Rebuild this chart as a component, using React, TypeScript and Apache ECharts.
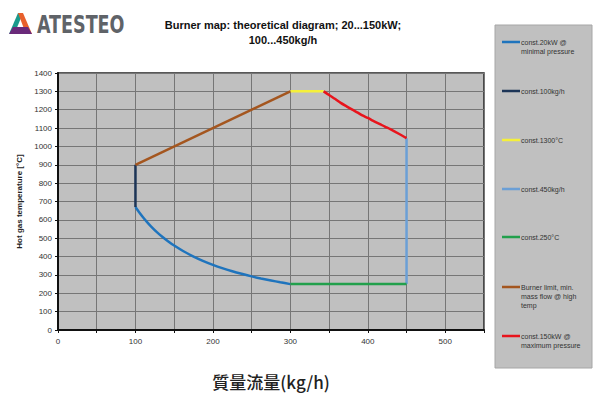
import React, { useEffect, useRef } from "react";
import * as echarts from "echarts";

const titleText = "Burner map: theoretical diagram; 20...150kW;\n100...450kg/h";
const xAxisName = "質量流量(kg/h)";
const yAxisName = "Hot gas temperature [°C]";

const seriesNames = [
  "const.20kW @\nminimal pressure",
  "const.100kg/h",
  "const.1300°C",
  "const.450kg/h",
  "const.250°C",
  "Burner limit, min.\nmass flow @ high\ntemp",
  "const.150kW @\nmaximum pressure",
];
const seriesColors = ["#1f74bd", "#1d3557", "#f5f03a", "#6b9fd6", "#22a04c", "#a4561f", "#e8141c"];

const const20kW = [
  [100, 670], [105, 640], [110, 613], [115, 588], [120, 565], [128, 532], [135, 507],
  [142, 484], [150, 460], [162, 429], [175, 400], [187, 377], [200, 355], [212, 337],
  [225, 320], [237, 306], [250, 292], [262, 281], [275, 270], [287, 260], [300, 250],
];
const const100kgh = [[100, 670], [100, 900]];
const const1300C = [[300, 1300], [343, 1300]];
const const450kgh = [[450, 1045], [450, 250]];
const const250C = [[300, 250], [450, 250]];
const burnerLimit = [[100, 900], [300, 1300]];
const const150kW = [
  [343, 1300], [350, 1280], [358, 1258], [365, 1237], [373, 1217], [380, 1200], [387, 1184],
  [393, 1169], [400, 1155], [407, 1139], [415, 1123], [422, 1108], [429, 1094], [440, 1069],
  [450, 1045],
];
const seriesData = [const20kW, const100kgh, const1300C, const450kgh, const250C, burnerLimit, const150kW];
const smoothFlags = [true, false, false, false, false, false, true];

const legendYs = [42, 91, 140, 189, 237, 287, 336];

export default function App() {
  const ref = useRef<HTMLDivElement>(null);
  useEffect(() => {
    if (!ref.current) return;
    const chart = echarts.init(ref.current, null, { renderer: "svg" });

    const legendGraphics: any[] = [
      {
        type: "rect",
        shape: { x: 495, y: 25, width: 97, height: 343 },
        style: { fill: "#c0c0c0", stroke: "#a6a6a6", lineWidth: 1 },
        z: 1,
      },
    ];
    seriesNames.forEach((n, i) => {
      legendGraphics.push({
        type: "line",
        shape: { x1: 502, y1: legendYs[i], x2: 520, y2: legendYs[i] },
        style: { stroke: seriesColors[i], lineWidth: 2.5 },
        z: 2,
      });
      legendGraphics.push({
        type: "text",
        x: 521,
        y: legendYs[i] - 4.5,
        style: {
          text: n,
          fill: "#333",
          fontSize: 7,
          lineHeight: 9,
          fontFamily: "'Liberation Sans', Arial, sans-serif",
          verticalAlign: "top",
        },
        z: 2,
      });
    });

    const logo: any[] = [
      { type: "polygon", shape: { points: [[9, 34], [18, 13], [23, 13], [16, 30]] }, style: { fill: "#1a9a8c" } },
      { type: "polygon", shape: { points: [[18, 13], [23, 13], [32, 34], [26, 34]] }, style: { fill: "#e8602c" } },
      { type: "polygon", shape: { points: [[9, 34], [13, 27], [28, 27], [32, 34]] }, style: { fill: "#6a2a7a" } },
      {
        type: "text",
        x: 37,
        y: 24,
        scaleX: 0.78,
        style: {
          text: "ATESTEO",
          fill: "#5f6368",
          fontSize: 25,
          fontWeight: "bold",
          fontFamily: "'DejaVu Sans Condensed', 'Liberation Sans Narrow', sans-serif",
          verticalAlign: "middle",
        },
      },
    ];

    chart.setOption({
      animation: false,
      backgroundColor: "#ffffff",
      title: {
        text: titleText,
        left: 278,
        top: 12,
        textAlign: "center",
        textStyle: {
          fontSize: 11,
          fontWeight: "bold",
          color: "#111",
          lineHeight: 15,
          fontFamily: "'Liberation Sans', Arial, sans-serif",
        },
      },
      graphic: [...legendGraphics, ...logo],
      grid: {
        left: 58,
        right: 116,
        top: 73,
        bottom: 64,
        show: true,
        backgroundColor: "#c0c0c0",
        borderColor: "#222",
        borderWidth: 1.5,
      },
      xAxis: {
        type: "value",
        min: 0,
        max: 550,
        interval: 50,
        name: xAxisName,
        nameLocation: "middle",
        nameGap: 43,
        nameTextStyle: {
          fontSize: 17,
          fontWeight: 500,
          color: "#222",
          fontFamily: "'Noto Sans CJK JP', 'Liberation Sans', sans-serif",
        },
        axisLine: { show: true, lineStyle: { color: "#111", width: 2 } },
        axisTick: { show: true, length: 3, lineStyle: { color: "#111" } },
        axisLabel: {
          fontSize: 8,
          color: "#333",
          margin: 7,
          fontFamily: "'Liberation Sans', Arial, sans-serif",
          formatter: (v: number) => (v % 100 === 0 ? String(v) : ""),
        },
        splitLine: { show: true, lineStyle: { color: "#767676", width: 1 } },
      },
      yAxis: {
        type: "value",
        min: 0,
        max: 1400,
        interval: 100,
        name: yAxisName,
        nameLocation: "middle",
        nameGap: 35,
        nameTextStyle: {
          fontSize: 8,
          fontWeight: "bold",
          color: "#222",
          fontFamily: "'Liberation Sans', Arial, sans-serif",
        },
        axisLine: { show: true, lineStyle: { color: "#111", width: 2 } },
        axisTick: { show: true, length: 3, lineStyle: { color: "#111" } },
        axisLabel: {
          fontSize: 8,
          color: "#333",
          margin: 6,
          fontFamily: "'Liberation Sans', Arial, sans-serif",
          formatter: (v: number) => String(v),
        },
        splitLine: { show: true, lineStyle: { color: "#767676", width: 1 } },
      },
      series: seriesNames.map((n, i) => ({
        name: n,
        type: "line",
        data: seriesData[i],
        showSymbol: false,
        smooth: smoothFlags[i] ? 0.3 : false,
        lineStyle: { color: seriesColors[i], width: 2.5 },
        itemStyle: { color: seriesColors[i] },
        z: 3,
      })),
    });
    return () => chart.dispose();
  }, []);

  return (
    <div
      ref={ref}
      style={{ position: "fixed", left: 0, top: 0, width: 600, height: 395 }}
    />
  );
}
